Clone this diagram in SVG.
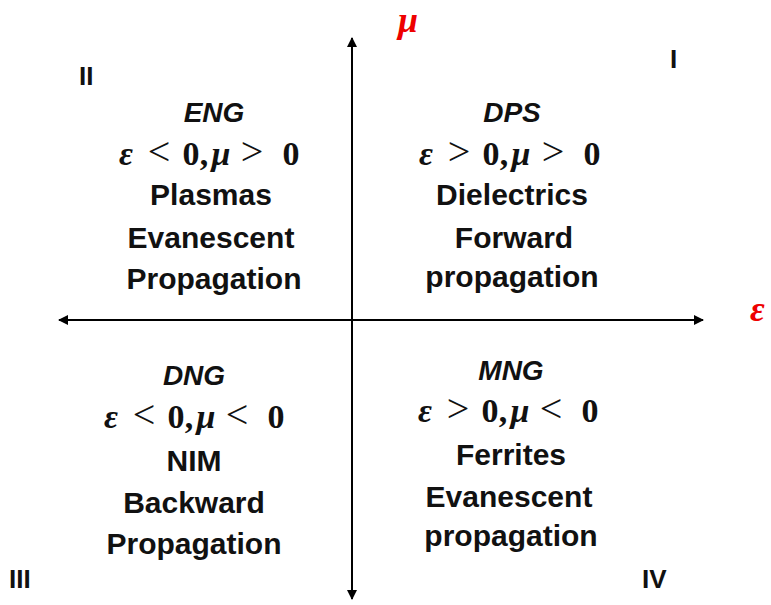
<svg xmlns="http://www.w3.org/2000/svg" width="771" height="605" viewBox="0 0 771 605">
<style>
.t{font-family:"Liberation Sans",Arial,sans-serif;font-weight:bold;font-size:30px;fill:#111;text-anchor:middle}
.h{font-family:"Liberation Sans",Arial,sans-serif;font-weight:bold;font-style:italic;font-size:28px;fill:#111;text-anchor:middle}
.m{font-family:"Liberation Serif","Times New Roman",serif;font-weight:bold;font-size:34px;fill:#111;text-anchor:middle}
.i{font-style:italic}
.o{font-size:40px;font-weight:normal}
.r{font-family:"Liberation Sans",Arial,sans-serif;font-weight:bold;font-size:26px;fill:#111}
.ax{font-family:"Liberation Serif","Times New Roman",serif;font-weight:bold;font-style:italic;font-size:36px;fill:#e00}
.line{stroke:#000;stroke-width:2;fill:none}
</style>
<defs>
<marker id="arr" viewBox="0 0 10 10" refX="9" refY="5" markerWidth="6" markerHeight="5" orient="auto-start-reverse" markerUnits="strokeWidth">
<path d="M0,0 L10,5 L0,10 z" fill="#000"/>
</marker>
</defs>
<g id="axes">
<line class="line" x1="352" y1="599" x2="352" y2="38" marker-end="url(#arr)" marker-start="url(#arr)"/>
<line class="line" x1="59" y1="320" x2="703" y2="320" marker-end="url(#arr)" marker-start="url(#arr)"/>
<text class="ax" x="398" y="32">μ</text>
<text class="ax" x="750" y="321">ε</text>
</g>
<g id="q2">
<text class="r" x="79" y="85">II</text>
<text class="h" x="214" y="122">ENG</text>
<text class="m" y="165"><tspan class="i" x="126">ε</tspan><tspan class="o" x="159">&lt;</tspan><tspan x="191">0</tspan><tspan x="204">,</tspan><tspan class="i" x="221">μ</tspan><tspan class="o" x="252">&gt;</tspan><tspan x="291">0</tspan></text>
<text class="t" x="211" y="205">Plasmas</text>
<text class="t" x="211" y="248">Evanescent</text>
<text class="t" x="214" y="289">Propagation</text>
</g>
<g id="q1">
<text class="r" x="670" y="68">I</text>
<text class="h" x="512" y="122">DPS</text>
<text class="m" y="165"><tspan class="i" x="426">ε</tspan><tspan class="o" x="459">&gt;</tspan><tspan x="491">0</tspan><tspan x="504">,</tspan><tspan class="i" x="521">μ</tspan><tspan class="o" x="553">&gt;</tspan><tspan x="592">0</tspan></text>
<text class="t" x="512" y="205">Dielectrics</text>
<text class="t" x="514" y="248">Forward</text>
<text class="t" x="512" y="287">propagation</text>
</g>
<g id="q3">
<text class="r" x="9" y="588">III</text>
<text class="h" x="194" y="385">DNG</text>
<text class="m" y="428"><tspan class="i" x="111">ε</tspan><tspan class="o" x="144">&lt;</tspan><tspan x="176">0</tspan><tspan x="189">,</tspan><tspan class="i" x="206">μ</tspan><tspan class="o" x="237">&lt;</tspan><tspan x="276">0</tspan></text>
<text class="t" x="194" y="471">NIM</text>
<text class="t" x="194" y="513">Backward</text>
<text class="t" x="194" y="554">Propagation</text>
</g>
<g id="q4">
<text class="r" x="642" y="588">IV</text>
<text class="h" x="511" y="380">MNG</text>
<text class="m" y="422"><tspan class="i" x="425">ε</tspan><tspan class="o" x="458">&gt;</tspan><tspan x="490">0</tspan><tspan x="503">,</tspan><tspan class="i" x="520">μ</tspan><tspan class="o" x="551">&lt;</tspan><tspan x="590">0</tspan></text>
<text class="t" x="511" y="465">Ferrites</text>
<text class="t" x="509" y="507">Evanescent</text>
<text class="t" x="511" y="546">propagation</text>
</g>
</svg>
